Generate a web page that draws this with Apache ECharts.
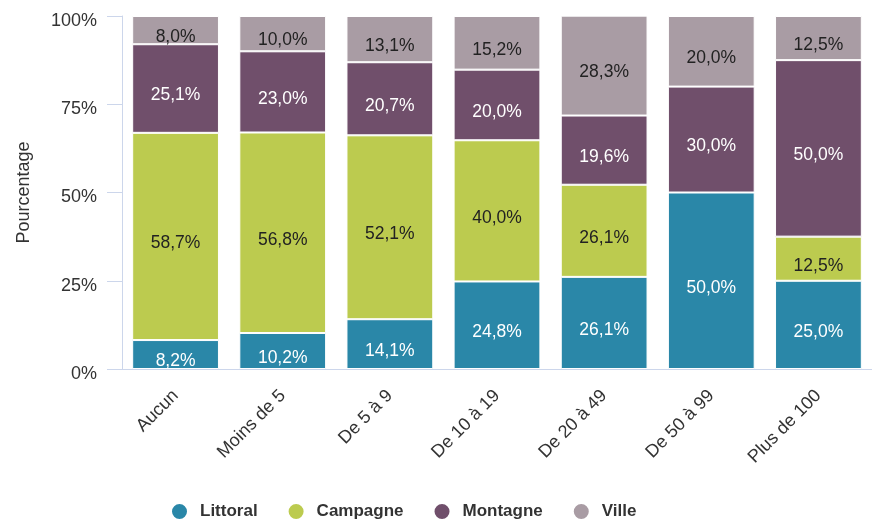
<!DOCTYPE html>
<html>
<head>
<meta charset="utf-8">
<script src="https://cdn.jsdelivr.net/npm/echarts@6/dist/echarts.min.js"></script>
<style>
  html, body { margin: 0; padding: 0; background: #fff; }
  #chart { width: 872px; height: 522px; }
</style>
</head>
<body>
<div id="chart"></div>
<script>
var categories = ['Aucun', 'Moins de 5', 'De 5 à 9', 'De 10 à 19', 'De 20 à 49', 'De 50 à 99', 'Plus de 100'];
var littoral = [8.2, 10.2, 14.1, 24.8, 26.1, 50.0, 25.0];
var campagne = [58.7, 56.8, 52.1, 40.0, 26.1, 0, 12.5];
var montagne = [25.1, 23.0, 20.7, 20.0, 19.6, 30.0, 50.0];
var ville = [8.0, 10.0, 13.1, 15.2, 28.3, 20.0, 12.5];

var fontFamily = '"Liberation Sans", Arial, sans-serif';
var axisColor = '#ccd6eb';

function makeSeries(name, data, color, labelColor) {
  return {
    name: name,
    type: 'bar',
    stack: 'total',
    data: data,
    barCategoryGap: '19%',
    itemStyle: { color: color, borderColor: '#fff', borderWidth: 1 },
    label: {
      show: true,
      position: 'inside',
      offset: [0, 7],
      color: labelColor,
      fontSize: 17.5,
      fontFamily: fontFamily,
      formatter: function (p) {
        if (!p.value) { return ''; }
        return p.value.toFixed(1).replace('.', ',') + '%';
      }
    }
  };
}

var chart = echarts.init(document.getElementById('chart'));
chart.setOption({
  animation: false,
  textStyle: { fontFamily: fontFamily },
  grid: { left: 122, top: 16, width: 751, height: 353 },
  legend: {
    top: 497,
    left: 165,
    icon: 'circle',
    itemWidth: 31,
    itemHeight: 17,
    itemGap: 29,
    textStyle: { fontSize: 17, fontWeight: 'bold', color: '#333', fontFamily: fontFamily }
  },
  xAxis: {
    type: 'category',
    data: categories,
    axisLine: { lineStyle: { color: axisColor } },
    axisTick: { length: 14, lineStyle: { color: axisColor } },
    axisLabel: { rotate: 45, fontSize: 18, color: '#333', margin: 24 }
  },
  yAxis: {
    type: 'value',
    min: 0,
    max: 100,
    interval: 25,
    name: 'Pourcentage',
    nameLocation: 'middle',
    nameGap: 89,
    nameTextStyle: { fontSize: 18, color: '#333' },
    axisLine: { show: true, lineStyle: { color: axisColor } },
    axisTick: { show: true, length: 15, lineStyle: { color: axisColor } },
    splitLine: { show: false },
    axisLabel: {
      fontSize: 18,
      color: '#333',
      margin: 25,
      verticalAlign: 'top',
      lineHeight: 10,
      formatter: '{value}%'
    }
  },
  series: [
    makeSeries('Littoral', littoral, '#2a87a8', '#fff'),
    makeSeries('Campagne', campagne, '#bccb4f', '#222'),
    makeSeries('Montagne', montagne, '#704f6b', '#fff'),
    makeSeries('Ville', ville, '#a99ca4', '#222')
  ]
});
</script>
</body>
</html>
